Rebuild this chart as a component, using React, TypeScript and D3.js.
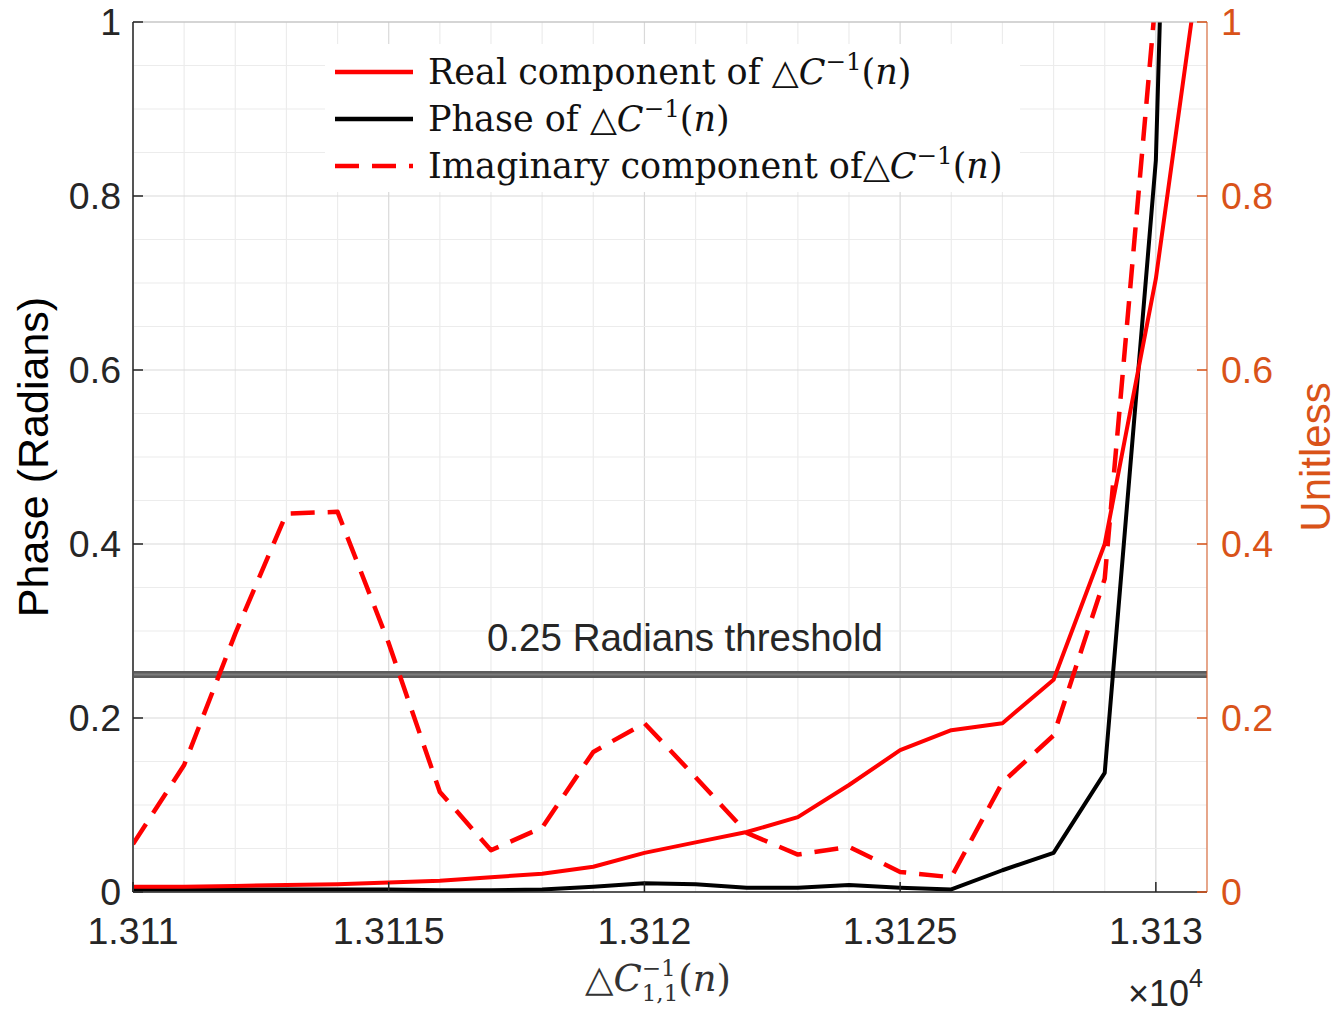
import React from 'react';
import * as d3 from 'd3';

// sample positions (x axis is shown as ×10^4)
const xValues = [13110, 13111, 13112, 13113, 13114, 13115, 13116, 13117, 13118, 13119, 13120,
  13121, 13122, 13123, 13124, 13125, 13126, 13127, 13128, 13129, 13130, 13131];

// real component of ΔC^-1(n)
const realPart = [0.006, 0.006, 0.007, 0.008, 0.009, 0.011, 0.013, 0.017, 0.021, 0.029, 0.045,
  0.057, 0.069, 0.086, 0.123, 0.163, 0.186, 0.194, 0.244, 0.4, 0.705, 1.13];

// phase of ΔC^-1(n)
const phase = [0.003, 0.003, 0.003, 0.003, 0.003, 0.003, 0.002, 0.002, 0.003, 0.006, 0.01,
  0.009, 0.005, 0.005, 0.008, 0.005, 0.003, 0.025, 0.045, 0.137, 0.841, 2.9];

// imaginary component of ΔC^-1(n)
const imagPart = [0.055, 0.146, 0.297, 0.435, 0.437, 0.286, 0.115, 0.048, 0.074, 0.161, 0.194,
  0.132, 0.068, 0.043, 0.052, 0.023, 0.017, 0.126, 0.18, 0.36, 1.03, 1.6];

const xTicks = [13110, 13115, 13120, 13125, 13130];
const xTickLabels = ['1.311', '1.3115', '1.312', '1.3125', '1.313'];
const yTicks = [0, 0.2, 0.4, 0.6, 0.8, 1];
const threshold = 0.25;

const W = 1340;
const H = 1015;
const margin = { left: 133, right: 133, top: 22, bottom: 123 };
const ORANGE = '#D95319';
const AXIS = '#262626';
const SANS = 'Liberation Sans, Arial, Helvetica, sans-serif';
const SERIF = 'DejaVu Serif, Liberation Serif, serif';

const legendItems = [
  { label: 'Real component of ', color: '#ff0000', dash: null },
  { label: 'Phase of ', color: '#000000', dash: null },
  { label: 'Imaginary component of', color: '#ff0000', dash: '24,13' },
];

const MathDeltaC = ({ size }: { size: number }) => (
  <>
    <tspan>△</tspan>
    <tspan fontStyle="italic">C</tspan>
    <tspan fontSize={size * 0.7} dy={-size * 0.4}>−1</tspan>
    <tspan dy={size * 0.4}>(</tspan>
    <tspan fontStyle="italic">n</tspan>
    <tspan>)</tspan>
  </>
);

export default function App() {
  const x = d3.scaleLinear().domain([13110, 13131]).range([margin.left, 1207]);
  const y = d3.scaleLinear().domain([0, 1]).range([H - margin.bottom, margin.top]);
  const yRight = d3.scaleLinear().domain([0, 1]).range([H - margin.bottom, margin.top]);

  const x0 = x.range()[0];
  const x1 = x.range()[1];
  const y0 = y.range()[0];
  const y1 = y.range()[1];

  const makeLine = (vals: number[], sc: d3.ScaleLinear<number, number>) =>
    d3.line<number>().x((_, i) => x(xValues[i])).y((v) => sc(v))(vals) || '';

  const minorX = d3.range(13110, 13131.5, 1);
  const minorY = d3.range(0, 1.0001, 0.05);

  return (
    <svg width={W} height={H} style={{ position: 'absolute', left: 0, top: 0, background: '#fff' }}>
      <defs>
        <clipPath id="plotClip">
          <rect x={x0} y={y1} width={x1 - x0} height={y0 - y1} />
        </clipPath>
      </defs>
      <rect x={0} y={0} width={W} height={H} fill="#fff" />

      {/* grid */}
      <g>
        {minorX.map((v) => (
          <line key={'gx' + v} x1={x(v)} x2={x(v)} y1={y1} y2={y0}
            stroke={xTicks.includes(v) ? '#d9d9d9' : '#ececec'} strokeWidth={1.2} />
        ))}
        {minorY.map((v, i) => (
          <line key={'gy' + i} x1={x0} x2={x1} y1={y(v)} y2={y(v)}
            stroke={i % 4 === 0 ? '#d9d9d9' : '#ececec'} strokeWidth={1.2} />
        ))}
      </g>

      {/* threshold */}
      <line x1={x0} x2={x1} y1={y(threshold)} y2={y(threshold)} stroke="#5c5c5c" strokeWidth={7} />
      <line x1={x0} x2={x1} y1={y(threshold)} y2={y(threshold)} stroke="#7c7c7c" strokeWidth={2} />
      <text x={685} y={y(threshold) - 24} fontFamily={SANS} fontSize={38.5} fill={AXIS} textAnchor="middle">
        0.25 Radians threshold
      </text>

      {/* data */}
      <g clipPath="url(#plotClip)" fill="none" strokeLinejoin="round">
        <path d={makeLine(phase, y)} stroke="#000" strokeWidth={4} />
        <path d={makeLine(realPart, yRight)} stroke="#ff0000" strokeWidth={4} />
        <path d={makeLine(imagPart, yRight)} stroke="#ff0000" strokeWidth={4.5} strokeDasharray="24,13" />
      </g>

      {/* axes */}
      <line x1={x0} x2={x1} y1={y1} y2={y1} stroke="#bdbdbd" strokeWidth={1.2} />
      <line x1={x0} x2={x1} y1={y0} y2={y0} stroke={AXIS} strokeWidth={1.5} />
      <line x1={x0} x2={x0} y1={y1} y2={y0} stroke="#555" strokeWidth={2} />
      <line x1={x1} x2={x1} y1={y1} y2={y0} stroke={ORANGE} strokeWidth={1.2} opacity={0.8} />

      {xTicks.map((v, i) => (
        <g key={'xt' + v}>
          <line x1={x(v)} x2={x(v)} y1={y0} y2={y0 - 10} stroke={AXIS} strokeWidth={1.5} />
          <text x={x(v)} y={y0 + 52} fontFamily={SANS} fontSize={37.5} fill={AXIS} textAnchor="middle">
            {xTickLabels[i]}
          </text>
        </g>
      ))}
      {yTicks.map((v) => (
        <g key={'yt' + v}>
          <line x1={x0} x2={x0 + 10} y1={y(v)} y2={y(v)} stroke={AXIS} strokeWidth={1.5} />
          <text x={x0 - 12} y={y(v) + 13} fontFamily={SANS} fontSize={37.5} fill={AXIS} textAnchor="end">
            {String(v)}
          </text>
          <line x1={x1} x2={x1 - 10} y1={yRight(v)} y2={yRight(v)} stroke={ORANGE} strokeWidth={1.5} />
          <text x={x1 + 14} y={yRight(v) + 13} fontFamily={SANS} fontSize={37.5} fill={ORANGE} textAnchor="start">
            {String(v)}
          </text>
        </g>
      ))}

      {/* axis labels */}
      <text transform={`translate(48,${(y0 + y1) / 2}) rotate(-90)`} fontFamily={SANS} fontSize={43}
        fill="#000" textAnchor="middle">
        Phase (Radians)
      </text>
      <text transform={`translate(1330,${(y0 + y1) / 2}) rotate(-90)`} fontFamily={SANS} fontSize={42}
        fill={ORANGE} textAnchor="middle">
        Unitless
      </text>
      <text x={585} y={991} fontFamily={SERIF} fontSize={37} fill="#333">
        <tspan>△</tspan>
        <tspan fontStyle="italic">C</tspan>
        <tspan fontSize={23} dy={-15}>−1</tspan>
        <tspan fontSize={23} dx={-34} dy={25}>1,1</tspan>
        <tspan fontSize={37} dy={-10}>(</tspan>
        <tspan fontStyle="italic">n</tspan>
        <tspan>)</tspan>
      </text>
      <text x={1128} y={1006} fontFamily={SANS} fontSize={36} fill={AXIS}>
        ×10<tspan fontSize={25} dy={-19}>4</tspan>
      </text>

      {/* legend */}
      <g>
        <rect x={325} y={44} width={695} height={148} fill="#fff" />
        {legendItems.map((it, i) => {
          const ly = 72 + i * 47;
          return (
            <g key={'lg' + i}>
              <line x1={335} x2={413} y1={ly} y2={ly} stroke={it.color} strokeWidth={4.5}
                strokeDasharray={it.dash || undefined} />
              <text x={428} y={ly + 12} fontFamily={SERIF} fontSize={35} fill="#111">
                <tspan>{it.label}</tspan>
                <MathDeltaC size={35} />
              </text>
            </g>
          );
        })}
      </g>
    </svg>
  );
}
